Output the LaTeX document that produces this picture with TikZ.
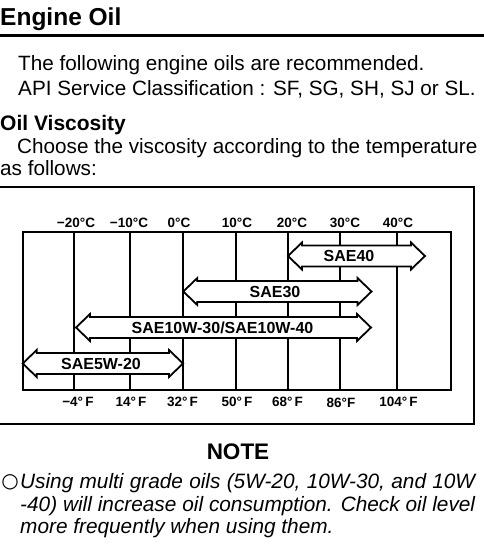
\documentclass[tikz,border=0pt]{standalone}
\usepackage{fontspec}
\setmainfont{Liberation Sans}
\newfontfamily\symfont{DejaVu Sans}
\newcommand\oilarrow[6]{% name, left tip x, right tip x, centre y, label x, label
  \draw[arrowbox] (#2,#4) -- ({#2+14},{#4-13.5}) -- ({#2+14},{#4-10.5})
    -- ({#3-14},{#4-10.5}) -- ({#3-14},{#4-13.5}) -- (#3,#4)
    -- ({#3-14},{#4+13.5}) -- ({#3-14},{#4+10.5}) -- ({#2+14},{#4+10.5})
    -- ({#2+14},{#4+13.5}) -- cycle;
  \node[sae] (#1) at (#5,#4) {#6};
}
\begin{document}
\begin{tikzpicture}[x=1pt,y=-1pt,
  body/.style={anchor=base west,inner sep=0pt,font=\fontsize{20.7}{25}\selectfont},
  head/.style={anchor=base west,inner sep=0pt,font=\fontsize{21}{25}\selectfont\bfseries},
  temp/.style={anchor=base,inner sep=0pt,font=\fontsize{13.5}{16}\selectfont\bfseries},
  sae/.style={inner sep=0pt,text height=11.5pt,text depth=0pt,font=\fontsize{16}{19}\selectfont\bfseries},
  arrowbox/.style={draw,fill=white,line width=1.8pt,line join=miter},
  grid/.style={line width=1.5pt},
  notefont/.style={anchor=base west,inner sep=0pt,font=\fontsize{20.8}{25}\selectfont\itshape}]
\useasboundingbox (0,0) rectangle (484,549);
% heading
\node[anchor=base west,inner sep=0pt,font=\fontsize{24.5}{28}\selectfont\bfseries] (title) at (0,25) {Engine Oil};
\draw[line width=3pt] (0,35) -- (484,35);
\node[body] (l1) at (18,70) {The following engine oils are recommended.};
\node[body] (l2) at (18,95) {API Service Classification : SF, SG, SH, SJ or SL.};
\node[head] (visc) at (0,130) {Oil Viscosity};
\node[body] (l3) at (17,153) {Choose the viscosity according to the temperature};
\node[body] (l4) at (0,175) {as follows:};
% outer frame
\draw[line width=2.8pt,line join=miter] (0,187) -- (474,187) -- (474,424) -- (0,424);
% chart grid
\foreach \x in {74,130,183,236,288,340,397}
  \draw[grid] (\x,232) -- (\x,389.5);
\draw[line width=2pt] (22.7,232) rectangle (450.7,389.5);
% temperature labels
\node[temp] (c1) at (76,227) {−20°C};
\node[temp] (c2) at (129,227) {−10°C};
\node[temp] (c3) at (179,227) {0°C};
\node[temp] (c4) at (237,227) {10°C};
\node[temp] (c5) at (292,227) {20°C};
\node[temp] (c6) at (345,227) {30°C};
\node[temp] (c7) at (398,227) {40°C};
\node[temp] (f1) at (78,406) {−4°\,F};
\node[temp] (f2) at (131,406) {14°\,F};
\node[temp] (f3) at (182.5,406) {32°\,F};
\node[temp] (f4) at (237,406) {50°\,F};
\node[temp] (f5) at (287.5,406) {68°\,F};
\node[temp] (f6) at (341,407) {86°F};
\node[temp] (f7) at (398.5,406) {104°\,F};
% viscosity arrows
\oilarrow{sae40}{288}{425}{256}{349}{SAE40}
\oilarrow{sae30}{183.3}{371.5}{291.5}{275}{SAE30}
\oilarrow{sae10w}{76}{371}{327.5}{222.5}{SAE10W-30/SAE10W-40}
\oilarrow{sae5w}{22.7}{183}{363.5}{101}{SAE5W-20}
% note
\node[anchor=base,inner sep=0pt,font=\fontsize{22.5}{26}\selectfont\bfseries] (note) at (238,459) {NOTE};
\node[inner sep=0pt,font=\fontsize{20}{22}\symfont] (bullet) at (10,482) {○};
\node[notefont] (n1) at (20,488) {\makebox[455pt][s]{Using multi grade oils (5W-20, 10W-30, and 10W}};
\node[notefont] (n2) at (20,511) {\makebox[455pt][s]{-40) will increase oil consumption. Check oil level}};
\node[notefont] (n3) at (20,533) {more frequently when using them.};
\end{tikzpicture}
\end{document}
